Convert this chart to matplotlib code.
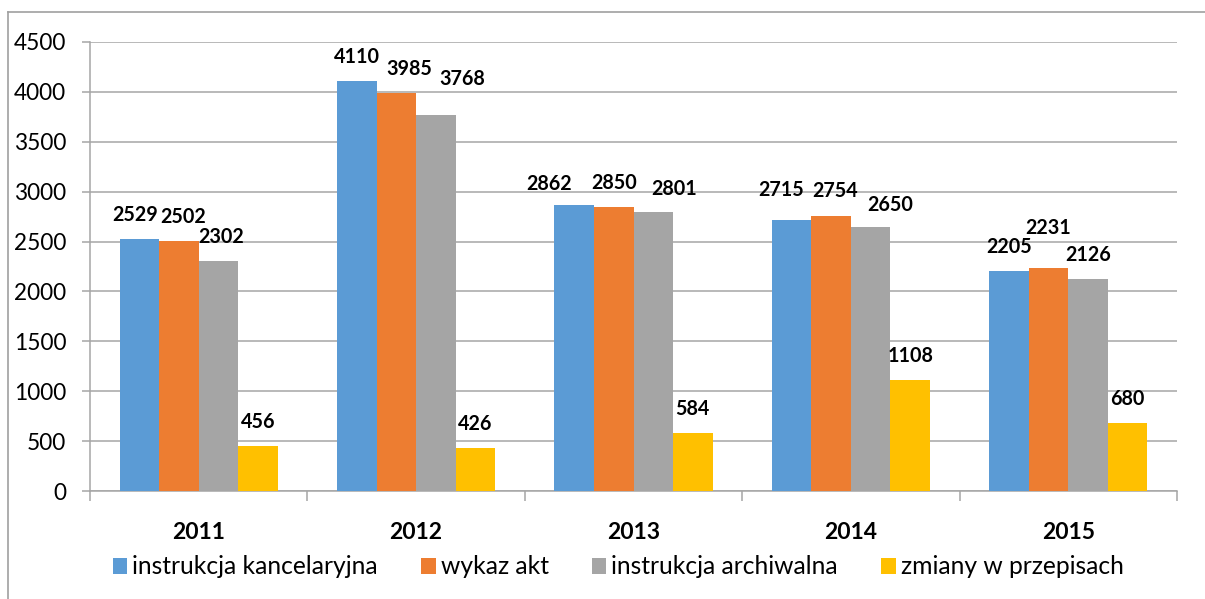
import matplotlib
matplotlib.use("Agg")
import matplotlib.pyplot as plt
import numpy as np
from matplotlib.lines import Line2D

years = ["2011", "2012", "2013", "2014", "2015"]
series_names = ["instrukcja kancelaryjna", "wykaz akt", "instrukcja archiwalna", "zmiany w przepisach"]
kancelaryjna = [2529, 4110, 2862, 2715, 2205]
wykaz_akt = [2502, 3985, 2850, 2754, 2231]
archiwalna = [2302, 3768, 2801, 2650, 2126]
zmiany = [456, 426, 584, 1108, 680]
colors = ["#5B9BD5", "#ED7D31", "#A5A5A5", "#FFC000"]

# label nudges in pixels (dx, dy) per series/year -- style only
nudges = {
    (0, 0): (-4, 0), (1, 0): (4, 0), (2, 0): (3, 0),
    (0, 2): (-25, -3), (2, 2): (21, -1),
    (0, 3): (-10, 6), (1, 3): (4, 1), (2, 3): (20, -2),
    (1, 4): (0, 16),
    (1, 1): (13, 0), (2, 1): (26, 12),
}

plt.rcParams['font.family'] = ['Lato', 'DejaVu Sans']

W, H = 1205, 599
fig = plt.figure(figsize=(W / 100, H / 100), dpi=100)
ax = fig.add_axes([90 / W, (H - 491) / H, (1177 - 90) / W, (491 - 42) / H])

series = [kancelaryjna, wykaz_akt, archiwalna, zmiany]
x = np.arange(len(years))
bw = 1 / 5.5
for i, vals in enumerate(series):
    pos = x - 2 * bw + (i + 0.5) * bw
    ax.bar(pos, vals, width=bw, color=colors[i], label=series_names[i],
           zorder=3, linewidth=0)
    for j, (p, v) in enumerate(zip(pos, vals)):
        dx, dy = nudges.get((i, j), (0, 0))
        ax.annotate(str(v), (p, v), xytext=(dx, 24 + dy), textcoords="offset pixels",
                    ha="center", va="center", fontsize=14.2, fontweight="bold",
                    color="black", zorder=5)

ax.set_xlim(-0.5, len(years) - 0.5)
ax.set_ylim(0, 4500)
ax.set_yticks(np.arange(0, 4501, 500))
ax.yaxis.grid(True, color="#A6A6A6", linewidth=1.1, zorder=0)
ax.set_axisbelow(True)
for s in ["top", "right"]:
    ax.spines[s].set_visible(False)
for s in ["left", "bottom"]:
    ax.spines[s].set_color("#A6A6A6")
    ax.spines[s].set_linewidth(1.1)
ax.tick_params(axis="y", length=6, width=1.1, color="#A6A6A6", pad=11, labelsize=16.3)

ax.set_xticks(np.arange(-0.5, len(years), 1.0))
ax.set_xticklabels([])
ax.tick_params(axis="x", which="major", length=7, width=1.1, color="#A6A6A6")
ax.set_xticks(x, minor=True)
ax.set_xticklabels(years, minor=True, fontsize=16.5, fontweight="bold")
ax.tick_params(axis="x", which="minor", length=0, pad=22)

leg = fig.legend(loc="center", bbox_to_anchor=(0.513, (H - 567) / H), ncol=4, frameon=False,
                 fontsize=17.7, handlelength=0.6, handleheight=0.6, handletextpad=0.2,
                 columnspacing=1.75)

# figure border
fig.add_artist(Line2D([8 / W, 8 / W], [0, 1 - 12 / H], color="#A0A0A0", linewidth=1.2))
fig.add_artist(Line2D([8 / W, 1], [1 - 12 / H, 1 - 12 / H], color="#A0A0A0", linewidth=1.2))

fig.savefig("out.png", dpi=100)
